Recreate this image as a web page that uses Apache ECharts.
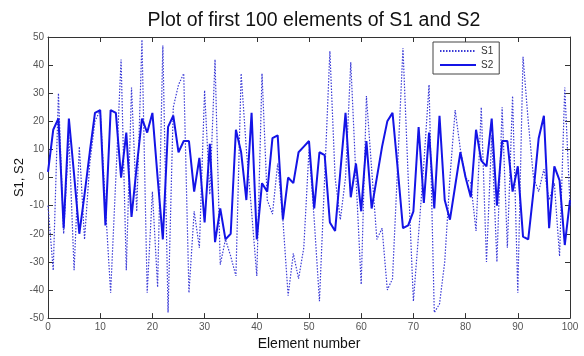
<!DOCTYPE html>
<html>
<head>
<meta charset="utf-8">
<script src="https://cdn.jsdelivr.net/npm/echarts@6/dist/echarts.min.js"></script>
<style>
  html, body { margin: 0; padding: 0; background: #fff; }
  #chart { width: 584px; height: 356px; }
</style>
</head>
<body>
<div id="chart"></div>
<script>
// values, element 0..100
const s1Values = [
  -10, -33, 30, -20, 15, -33, 11, -22, 5, 20,
  24, -10, -41, 0, 42, -33, 32, -12, 49, -41,
  -5, -39, 47, -48, 25, 33, 37, -41, -12, -25,
  31, -6, 42, -31, -22, -28, -35, 37, 10, -12,
  -35, 37, -8, -13, 5, -15, -42, -27, -36, -25,
  10, -15, -44, 0, 45, 0, -15, 0, 41, 0,
  -38, 29, 3, -22, -18, -40, -36, 5, 46, 0,
  -44, -20, 5, 33, -48, -45, -30, 0, 24, 10,
  0, -2, -19, 25, -30, 15, -30, 25, -25, 29,
  -41, 43, 20, 0, -5, 3, -8, -2, -28, 32,
  -10
];
const s2Values = [
  2, 17, 21, -18, 21, 1, -20, -6, 9, 23,
  24, -17, 24, 23, 0, 16, -14, 4, 21, 16,
  23, 0, -22, 18, 22, 9, 13, 13, -5, 7,
  -16, 12, -23, -11, -22, -20, 17, 9, -8, 23,
  -22, -2, -5, 14, 15, -15, 0, -2, 9, 11,
  13, -11, 9, 8, -16, -19, 2, 23, -7, 5,
  -12, 13, -11, 0, 11, 20, 23, 3, -18, -17,
  -12, 18, -9, 16, -11, 22, -8, -15, -3, 9,
  0, -7, 17, 6, 4, 21, -10, 13, 13, -5,
  4, -21, -22, -5, 14, 22, -18, 4, -1, -24,
  -8
];
const seriesNames = ['S1', 'S2'];
const titleText = 'Plot of first 100 elements of S1 and S2';

const toPoints = (arr) => arr.map((v, i) => [i, v]);

const chart = echarts.init(document.getElementById('chart'));

const tickStyle = { color: '#555', fontSize: 10, fontFamily: 'Liberation Sans' };
const lineCol = '#333';

// box axes (top / right) only carry inward ticks
const boxX = {
  type: 'value', position: 'top',
  min: 0, max: 100, interval: 10,
  axisLine: { show: true, onZero: false, lineStyle: { color: lineCol } },
  axisTick: { show: true, inside: true, length: 5, lineStyle: { color: lineCol } },
  axisLabel: { show: false },
  splitLine: { show: false },
};
const boxY = {
  type: 'value', position: 'right',
  min: -50, max: 50, interval: 10,
  axisLine: { show: true, onZero: false, lineStyle: { color: lineCol } },
  axisTick: { show: true, inside: true, length: 5, lineStyle: { color: lineCol } },
  axisLabel: { show: false },
  splitLine: { show: false },
};

chart.setOption({
  animation: false,
  backgroundColor: '#fff',
  textStyle: { fontFamily: 'Liberation Sans' },
  title: {
    text: titleText,
    left: 309,
    textAlign: 'center',
    top: 6,
    textStyle: { fontSize: 19.5, fontWeight: 'normal', color: '#111' },
  },
  legend: {
    data: seriesNames,
    orient: 'vertical',
    left: 433,
    top: 42,
    itemWidth: 36,
    itemHeight: 8,
    itemGap: 4,
    padding: [4, 6, 4, 6],
    borderColor: '#444',
    borderWidth: 1,
    backgroundColor: '#fff',
    itemStyle: { opacity: 0 },
    textStyle: { fontSize: 10, color: '#333' },
  },
  grid: { left: 48, right: 14, top: 37, bottom: 34 },
  xAxis: [
    {
      type: 'value',
      min: 0, max: 100, interval: 10,
      name: 'Element number',
      nameLocation: 'middle',
      nameGap: 15,
      nameTextStyle: { fontSize: 14, color: '#111' },
      axisLine: { onZero: false, lineStyle: { color: lineCol } },
      axisTick: { inside: true, length: 5, lineStyle: { color: lineCol } },
      axisLabel: Object.assign({ margin: 4 }, tickStyle),
      splitLine: { show: false },
    },
    boxX,
  ],
  yAxis: [
    {
      type: 'value',
      min: -50, max: 50, interval: 10,
      name: 'S1, S2',
      nameLocation: 'middle',
      nameGap: 22,
      nameMoveOverlap: false,
      nameTextStyle: { fontSize: 13, color: '#111' },
      axisLine: { show: true, onZero: false, lineStyle: { color: lineCol } },
      axisTick: { show: true, inside: true, length: 5, lineStyle: { color: lineCol } },
      axisLabel: Object.assign({ margin: 4 }, tickStyle),
      splitLine: { show: false },
    },
    boxY,
  ],
  series: [
    {
      name: 'S1',
      type: 'line',
      data: toPoints(s1Values),
      symbol: 'none',
      lineStyle: { color: '#3a3ad6', width: 1.2, type: [1.5, 1.5] },
      itemStyle: { color: '#3a3ad6' },
      z: 2,
    },
    {
      name: 'S2',
      type: 'line',
      data: toPoints(s2Values),
      symbol: 'none',
      lineStyle: { color: '#1414e6', width: 2 },
      itemStyle: { color: '#1414e6' },
      z: 3,
    },
  ],
});
</script>
</body>
</html>
